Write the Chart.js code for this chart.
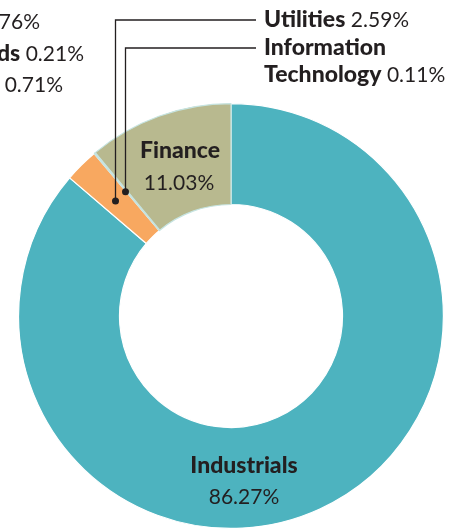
<!DOCTYPE html>
<html>
<head>
<meta charset="utf-8">
<script src="https://cdn.jsdelivr.net/npm/chart.js@4/dist/chart.umd.min.js"></script>
<style>
  html, body { margin: 0; padding: 0; background: #fff; overflow: hidden; }
  #wrap { position: relative; width: 455px; height: 529px; }
</style>
</head>
<body>
<div id="wrap"><canvas id="sectorChart" width="455" height="529"></canvas></div>
<script>
// data
const sectors = ['Industrials', 'Utilities', 'Information Technology', 'Finance'];
const shares = [86.27, 2.59, 0.11, 11.03];
const sectorColors = ['#4db3bf', '#f8a860', '#c6e4e1', '#b8b98f'];
const sectorBorders = ['#ffffff', '#ffffff', '#c6e4e1', '#c6e4e1'];

// labels of the neighbouring chart, cut off at the left edge
const clippedNames = ['', 'Funds', ''];
const clippedShares = [0.76, 0.21, 0.71];

const BOLD = '900 23px Lato';
const LIGHT = '400 21px Lato';
const INK = '#231f20';

function pct(v) { return v.toFixed(2) + '%'; }

// draw "Name value%" with the bold name, anchored left or right
function pair(ctx, name, value, x, y, align) {
    ctx.font = BOLD;
    const wName = name ? ctx.measureText(name + ' ').width : 0;
    ctx.font = LIGHT;
    const wVal = ctx.measureText(value).width;
    let start = align === 'right' ? x - wName - wVal : align === 'center' ? x - (wName + wVal) / 2 : x;
    ctx.textAlign = 'left';
    if (name) {
        ctx.font = BOLD;
        ctx.fillText(name, start, y);
    }
    ctx.font = LIGHT;
    ctx.fillText(value, start + wName, y);
}

const labelPlugin = {
    id: 'sectorLabels',
    afterDraw(chart) {
        const ctx = chart.ctx;
        const arcs = chart.getDatasetMeta(0).data;
        ctx.save();
        ctx.fillStyle = INK;
        ctx.strokeStyle = INK;
        ctx.textBaseline = 'alphabetic';

        // leader lines for the two thin slices
        const leaders = [{ i: 1, y: 20 }, { i: 2, y: 48 }];
        leaders.forEach(l => {
            const a = arcs[l.i];
            const mid = (a.startAngle + a.endAngle) / 2;
            const r = (a.innerRadius + a.outerRadius) / 2;
            const px = Math.round(a.x + Math.cos(mid) * r) - 1.5;
            const py = a.y + Math.sin(mid) * r;
            ctx.lineWidth = 1.3;
            ctx.beginPath();
            ctx.moveTo(px, py);
            ctx.lineTo(px, l.y);
            ctx.lineTo(256, l.y);
            ctx.stroke();
            ctx.beginPath();
            ctx.arc(px, py, 3.5, 0, Math.PI * 2);
            ctx.fill();
        });

        // right column
        pair(ctx, 'Utilities', pct(shares[1]), 264, 27, 'left');
        ctx.font = BOLD;
        ctx.fillText('Information', 264, 55);
        pair(ctx, 'Technology', pct(shares[2]), 264, 82, 'left');

        // left column (clipped)
        pair(ctx, clippedNames[0], pct(clippedShares[0]), 40, 29, 'right');
        pair(ctx, clippedNames[1], pct(clippedShares[1]), 84, 61, 'right');
        pair(ctx, clippedNames[2], pct(clippedShares[2]), 63, 92, 'right');

        // in-ring labels
        ctx.textAlign = 'center';
        ctx.font = BOLD;
        ctx.fillText(sectors[3], 180, 158);
        ctx.font = LIGHT;
        ctx.fillText(pct(shares[3]), 179, 190);

        ctx.font = BOLD;
        ctx.fillText(sectors[0], 244, 473);
        ctx.font = LIGHT;
        ctx.fillText(pct(shares[0]), 244, 504);
        ctx.restore();
    }
};

new Chart(document.getElementById('sectorChart'), {
    type: 'doughnut',
    data: {
        labels: sectors,
        datasets: [{
            data: shares,
            backgroundColor: sectorColors,
            borderColor: sectorBorders,
            borderWidth: 1.2
        }]
    },
    options: {
        responsive: false,
        animation: false,
        cutout: '52.5%',
        layout: { padding: { left: 17, right: 10, top: 103, bottom: -2 } },
        plugins: { legend: { display: false }, tooltip: { enabled: false } }
    },
    plugins: [labelPlugin]
});
</script>
</body>
</html>
